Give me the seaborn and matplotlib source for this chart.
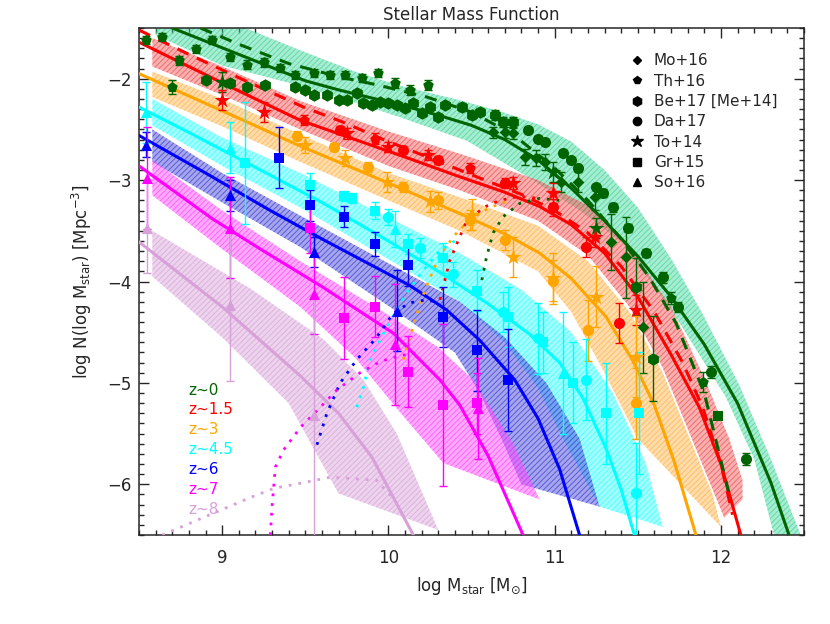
import numpy as np
import pandas as pd
import matplotlib
matplotlib.use("Agg")
import matplotlib.pyplot as plt
from matplotlib.lines import Line2D
import seaborn as sns

sns.set_style("ticks")
plt.rcParams["font.family"] = ["DejaVu Sans"]
plt.rcParams["hatch.linewidth"] = 0.7

z_names = ["z~0", "z~1.5", "z~3", "z~4.5", "z~6", "z~7", "z~8"]
line_cols = ["#006400", "#ff0000", "#ffa500", "#00ffff", "#0000ff", "#ff00ff", "#d8a0d8"]
band_cols = ["#3ed69a", "#f05050", "#ffb347", "#33ffff", "#3a3ad8", "#ff44ff", "#d9a0d9"]

# ---- model curves (solid) ----
z0_solid_x = [8.70, 8.90, 9.10, 9.30, 9.50, 9.70, 9.90, 10.10, 10.30, 10.50, 10.70, 10.90, 11.10, 11.30, 11.50, 11.70, 11.90, 12.10, 12.30, 12.41]
z0_solid_y = [-1.50, -1.63, -1.76, -1.89, -2.02, -2.11, -2.19, -2.27, -2.36, -2.46, -2.60, -2.80, -3.08, -3.40, -3.75, -4.15, -4.62, -5.20, -5.98, -6.50]
z15_solid_x = [8.50, 8.80, 9.10, 9.47, 9.80, 10.13, 10.40, 10.70, 10.91, 11.10, 11.30, 11.50, 11.70, 11.87, 12.00, 12.12]
z15_solid_y = [-1.64, -1.88, -2.12, -2.41, -2.60, -2.79, -2.95, -3.12, -3.26, -3.44, -3.72, -4.15, -4.72, -5.24, -5.80, -6.50]
z3_solid_x = [8.50, 8.80, 9.10, 9.45, 9.80, 10.13, 10.43, 10.70, 10.91, 11.10, 11.31, 11.47, 11.60, 11.72, 11.85]
z3_solid_y = [-1.95, -2.17, -2.39, -2.65, -2.89, -3.12, -3.33, -3.53, -3.72, -3.97, -4.35, -4.78, -5.22, -5.78, -6.50]
z45_solid_x = [8.50, 8.80, 9.23, 9.60, 10.00, 10.30, 10.60, 10.85, 11.03, 11.17, 11.31, 11.40, 11.48]
z45_solid_y = [-2.28, -2.53, -2.90, -3.22, -3.60, -3.90, -4.22, -4.52, -4.80, -5.15, -5.65, -6.05, -6.50]
z6_solid_x = [8.50, 8.90, 9.29, 9.60, 9.90, 10.13, 10.35, 10.55, 10.76, 10.90, 11.03, 11.15]
z6_solid_y = [-2.56, -2.93, -3.30, -3.58, -3.84, -4.04, -4.28, -4.58, -4.97, -5.35, -5.85, -6.50]
z7_solid_x = [8.50, 8.94, 9.23, 9.60, 10.03, 10.31, 10.43, 10.60, 10.81]
z7_solid_y = [-2.86, -3.38, -3.68, -4.05, -4.51, -4.97, -5.22, -5.72, -6.50]
z8_solid_x = [8.50, 9.00, 9.47, 9.70, 9.90, 10.15]
z8_solid_y = [-3.61, -4.25, -4.93, -5.30, -5.73, -6.50]

# ---- dashed curves ----
z0_dash_x = [8.87, 9.10, 9.40, 9.70, 9.93, 10.23, 10.50, 10.75, 11.00, 11.20, 11.40, 11.57, 11.73, 11.90, 12.05]
z0_dash_y = [-1.50, -1.66, -1.85, -1.98, -2.06, -2.18, -2.33, -2.55, -2.88, -3.20, -3.58, -3.96, -4.41, -5.10, -6.10]
z15_dash_x = [8.50, 8.80, 9.10, 9.49, 9.73, 9.97, 10.17, 10.55, 10.80, 11.00, 11.20, 11.40, 11.60, 11.77, 11.89, 12.00, 12.07]
z15_dash_y = [-1.52, -1.76, -1.99, -2.28, -2.43, -2.60, -2.73, -2.98, -3.14, -3.30, -3.52, -3.85, -4.30, -4.80, -5.24, -5.80, -6.30]

# ---- dotted curves ----
z0_dot_x = [10.55, 10.59, 10.63, 10.69, 10.79, 10.91, 11.03]
z0_dot_y = [-4.08, -3.76, -3.52, -3.36, -3.23, -3.18, -3.20]
z15_dot_x = [10.31, 10.37, 10.46, 10.57, 10.67, 10.79, 10.91]
z15_dot_y = [-4.18, -3.79, -3.44, -3.27, -3.20, -3.16, -3.18]
z3_dot_x = [10.09, 10.16, 10.22, 10.31, 10.40, 10.49, 10.61, 10.73]
z3_dot_y = [-4.77, -4.38, -4.08, -3.74, -3.54, -3.39, -3.27, -3.20]
z45_dot_x = [9.81, 9.85, 9.89, 9.99, 10.11, 10.21, 10.31, 10.43]
z45_dot_y = [-5.24, -5.04, -4.77, -4.45, -4.11, -3.89, -3.69, -3.57]
z6_dot_x = [9.57, 9.63, 9.71, 9.81, 9.93, 10.03, 10.13, 10.23, 10.31]
z6_dot_y = [-5.61, -5.30, -5.00, -4.77, -4.55, -4.31, -4.21, -4.18, -4.21]
z7_dot_x = [9.29, 9.30, 9.32, 9.37, 9.47, 9.59, 9.69, 9.83, 9.95, 10.07, 10.19]
z7_dot_y = [-6.50, -6.22, -5.83, -5.66, -5.44, -5.24, -5.07, -4.90, -4.79, -4.73, -4.70]
z8_dot_x = [8.64, 9.17, 9.31, 9.47, 9.65, 9.93, 10.00, 10.03]
z8_dot_y = [-6.50, -6.13, -6.04, -5.99, -5.93, -5.96, -6.09, -6.13]

# ---- shaded bands: upper (high-mass) edge, then lower edge ----
z0_band_up_x = [8.60, 9.14, 9.47, 9.80, 10.07, 10.40, 10.67, 10.90, 11.10, 11.30, 11.50, 11.71, 11.90, 12.11, 12.30, 12.48]
z0_band_up_y = [-1.50, -1.50, -1.72, -1.93, -2.07, -2.20, -2.32, -2.45, -2.62, -2.90, -3.27, -3.80, -4.35, -5.02, -5.75, -6.50]
z0_band_lo_x = [8.60, 9.00, 9.45, 9.85, 10.07, 10.47, 10.87, 11.17, 11.41, 11.71, 12.03, 12.20, 12.32]
z0_band_lo_y = [-1.57, -1.87, -2.06, -2.26, -2.38, -2.61, -3.00, -3.32, -3.62, -4.30, -5.14, -5.75, -6.50]
z15_band_up_x = [8.58, 9.00, 9.47, 10.00, 10.43, 10.90, 11.20, 11.45, 11.70, 11.90, 12.05, 12.13, 12.13, 12.02]
z15_band_up_y = [-1.60, -1.88, -2.22, -2.52, -2.74, -3.00, -3.25, -3.65, -4.25, -4.95, -5.55, -5.96, -6.15, -6.33]
z15_band_lo_x = [8.58, 9.00, 9.47, 10.00, 10.43, 10.90, 11.20, 11.45, 11.65, 11.80, 12.02]
z15_band_lo_y = [-1.88, -2.16, -2.50, -2.86, -3.10, -3.40, -3.74, -4.25, -4.85, -5.45, -6.33]
z3_band_up_x = [8.58, 9.00, 9.47, 10.00, 10.43, 10.90, 11.20, 11.45, 11.65, 11.80, 11.95, 12.00]
z3_band_up_y = [-1.93, -2.20, -2.55, -2.93, -3.17, -3.45, -3.80, -4.30, -4.90, -5.50, -6.10, -6.42]
z3_band_lo_x = [8.58, 9.00, 9.47, 10.00, 10.43, 10.90, 11.10, 11.30, 11.50, 12.00]
z3_band_lo_y = [-2.18, -2.47, -2.82, -3.20, -3.50, -3.90, -4.30, -4.90, -5.55, -6.42]
z45_band_up_x = [8.58, 9.00, 9.47, 10.00, 10.43, 10.80, 11.10, 11.35, 11.55, 11.65]
z45_band_up_y = [-2.20, -2.58, -2.93, -3.37, -3.72, -4.08, -4.50, -5.10, -5.80, -6.42]
z45_band_lo_x = [8.58, 9.00, 9.47, 10.00, 10.43, 10.70, 10.90, 11.05, 11.27, 11.65]
z45_band_lo_y = [-2.46, -2.86, -3.27, -3.78, -4.20, -4.60, -5.05, -5.55, -6.22, -6.42]
z6_band_up_x = [8.58, 9.00, 9.47, 10.00, 10.43, 10.70, 10.95, 11.15, 11.27]
z6_band_up_y = [-2.50, -2.93, -3.35, -3.82, -4.20, -4.55, -5.00, -5.55, -6.22]
z6_band_lo_x = [8.58, 9.00, 9.47, 10.00, 10.40, 10.55, 10.68, 10.80, 11.27]
z6_band_lo_y = [-2.82, -3.22, -3.66, -4.24, -4.70, -5.10, -5.55, -6.00, -6.22]
z7_band_up_x = [8.58, 9.00, 9.47, 10.00, 10.30, 10.51, 10.75, 10.91]
z7_band_up_y = [-2.80, -3.30, -3.80, -4.33, -4.65, -4.97, -5.60, -6.15]
z7_band_lo_x = [8.58, 9.00, 9.47, 9.80, 10.05, 10.33, 10.91]
z7_band_lo_y = [-3.15, -3.68, -4.25, -4.75, -5.25, -5.79, -6.15]
z8_band_up_x = [8.58, 9.17, 9.61, 9.85, 10.05, 10.30]
z8_band_up_y = [-3.50, -4.07, -4.57, -4.97, -5.50, -6.45]
z8_band_lo_x = [8.58, 9.00, 9.40, 9.70, 10.30]
z8_band_lo_y = [-3.95, -4.55, -5.20, -6.09, -6.45]

# ---- data points ----
z0_th_x = [8.54, 8.64, 8.70, 8.74, 8.84, 8.94, 9.05, 9.15, 9.25, 9.35, 9.44, 9.55, 9.65, 9.74, 9.84, 9.94, 10.04, 10.13, 10.24, 11.70, 11.89]
z0_th_y = [-1.62, -1.59, -2.08, -1.82, -1.71, -1.62, -1.79, -1.86, -1.84, -1.89, -1.96, -1.94, -1.96, -1.96, -1.99, -1.94, -2.04, -2.11, -2.06, -4.16, -4.99]
z0_th_e = [0.04, 0.04, 0.07, 0.04, 0.04, 0.04, 0.04, 0.04, 0.04, 0.04, 0.04, 0.04, 0.04, 0.04, 0.04, 0.04, 0.05, 0.05, 0.05, 0.06, 0.10]
z0_be_x = [8.90, 9.05, 9.15, 9.26, 9.44, 9.50, 9.55, 9.63, 9.70, 9.75, 9.81, 9.85, 9.90, 9.95, 10.00, 10.05, 10.10, 10.15, 10.20, 10.25, 10.30, 10.34, 10.44, 10.50, 10.55, 10.64, 10.69, 10.75, 11.49, 11.59]
z0_be_y = [-2.01, -2.04, -2.08, -2.06, -2.08, -2.11, -2.16, -2.16, -2.21, -2.21, -2.14, -2.24, -2.26, -2.23, -2.24, -2.26, -2.29, -2.24, -2.34, -2.28, -2.38, -2.26, -2.28, -2.36, -2.33, -2.36, -2.43, -2.43, -4.05, -4.76]
z0_be_e = [0.03, 0.03, 0.03, 0.03, 0.03, 0.03, 0.03, 0.03, 0.03, 0.03, 0.03, 0.03, 0.03, 0.03, 0.03, 0.03, 0.03, 0.03, 0.03, 0.03, 0.03, 0.03, 0.04, 0.04, 0.04, 0.05, 0.05, 0.05, 0.28, 0.42]
z0_da_x = [10.84, 10.90, 10.94, 11.05, 11.10, 11.14, 11.25, 11.29, 11.35, 11.44, 11.55, 11.65, 11.74, 11.94, 12.15]
z0_da_y = [-2.51, -2.59, -2.62, -2.73, -2.80, -2.88, -3.07, -3.13, -3.27, -3.47, -3.72, -3.96, -4.25, -4.89, -5.75]
z0_da_e = [0.03, 0.03, 0.03, 0.03, 0.03, 0.03, 0.03, 0.04, 0.04, 0.04, 0.04, 0.05, 0.05, 0.06, 0.06]
z0_mo_x = [10.63, 10.70, 10.75, 10.82, 10.89, 10.94, 11.04, 11.14, 11.24, 11.34, 11.43, 11.53]
z0_mo_y = [-2.53, -2.53, -2.54, -2.77, -2.78, -2.82, -3.02, -3.02, -3.17, -3.61, -3.76, -4.45]
z0_mo_e = [0.05, 0.05, 0.05, 0.08, 0.08, 0.08, 0.10, 0.10, 0.12, 0.28, 0.40, 0.45]
z0_to_x = [9.00, 10.99, 11.25]
z0_to_y = [-2.03, -2.92, -3.47]
z0_to_e = [0.10, 0.10, 0.10]
z0_gr_x = [11.98]
z0_gr_y = [-5.33]
z0_gr_e = [0.03]

z15_to_x = [9.00, 9.25, 9.75, 10.00, 10.24, 10.75, 10.99, 11.24, 11.49]
z15_to_y = [-2.21, -2.33, -2.54, -2.67, -2.75, -3.03, -3.13, -3.56, -4.28]
z15_to_e = [0.10, 0.10, 0.05, 0.05, 0.05, 0.06, 0.10, 0.10, 0.15]
z15_th_x = [9.49, 9.92, 10.49]
z15_th_y = [-2.41, -2.59, -2.88]
z15_th_e = [0.05, 0.05, 0.05]
z15_da_x = [9.71, 10.09, 10.30, 10.70, 10.99, 11.19, 11.39]
z15_da_y = [-2.51, -2.70, -2.80, -3.03, -3.27, -3.66, -4.41]
z15_da_e = [0.04, 0.04, 0.04, 0.05, 0.08, 0.10, 0.20]

z3_da_x = [9.45, 9.67, 9.88, 10.09, 10.30, 10.49, 10.70, 10.99, 11.20, 11.49]
z3_da_y = [-2.56, -2.67, -2.87, -3.07, -3.20, -3.39, -3.59, -3.99, -4.48, -5.20]
z3_da_e = [0.04, 0.04, 0.05, 0.05, 0.08, 0.10, 0.10, 0.20, 0.30, 0.35]
z3_to_x = [9.50, 9.74, 9.99, 10.25, 10.50, 10.75, 10.99, 11.25, 11.49]
z3_to_y = [-2.65, -2.78, -3.02, -3.21, -3.34, -3.76, -3.97, -4.15, -4.74]
z3_to_e = [0.08, 0.08, 0.10, 0.10, 0.15, 0.20, 0.25, 0.30, 0.40]

z45_so_x = [8.54, 9.05, 10.04, 11.05]
z45_so_y = [-2.33, -2.68, -3.48, -4.90]
z45_so_e = [0.30, 0.25, 0.18, 0.60]
z45_gr_x = [9.14, 9.53, 9.73, 9.78, 9.92, 10.12, 10.33, 10.53, 10.72, 10.93, 11.11, 11.31, 11.51]
z45_gr_y = [-2.83, -3.05, -3.16, -3.18, -3.30, -3.63, -3.77, -4.09, -4.35, -4.60, -5.00, -5.30, -5.30]
z45_gr_e = [0.60, 0.12, 0.05, 0.05, 0.08, 0.10, 0.15, 0.20, 0.30, 0.30, 0.40, 0.50, 0.60]
z45_da_x = [10.00, 10.19, 10.39, 10.69, 10.90, 11.19, 11.49]
z45_da_y = [-3.36, -3.67, -3.93, -4.30, -4.56, -4.97, -6.09]
z45_da_e = [0.08, 0.10, 0.12, 0.20, 0.35, 0.40, 0.50]

z6_so_x = [8.54, 9.05, 9.55, 10.05]
z6_so_y = [-2.65, -3.15, -3.71, -4.29]
z6_so_e = [0.12, 0.15, 0.15, 0.40]
z6_gr_x = [9.34, 9.53, 9.73, 9.92, 10.12, 10.33, 10.53, 10.72]
z6_gr_y = [-2.78, -3.25, -3.36, -3.63, -3.84, -4.35, -4.68, -4.97]
z6_gr_e = [0.30, 0.15, 0.10, 0.12, 0.20, 0.30, 0.40, 0.50]

z7_so_x = [8.55, 9.05, 9.55, 10.04, 10.54]
z7_so_y = [-2.98, -3.47, -4.12, -4.62, -5.25]
z7_so_e = [0.50, 0.50, 0.40, 0.60, 0.50]
z7_gr_x = [9.53, 9.73, 9.92, 10.12, 10.33, 10.53]
z7_gr_y = [-3.47, -4.36, -4.25, -4.89, -5.22, -5.20]
z7_gr_e = [0.25, 0.40, 0.30, 0.35, 0.80, 0.30]

z8_so_x = [8.55, 9.05, 9.55]
z8_so_y = [-3.47, -4.23, -5.32]
z8_so_e = [0.45, 0.75, 1.20]

survey_names = ["Mo+16", "Th+16", "Be+17 [Me+14]", "Da+17", "To+14", "Gr+15", "So+16"]
survey_marks = ["D", "p", "h", "o", "*", "s", "^"]
survey_sizes = [6, 8, 9, 8, 12, 7, 8]

fig = plt.figure(figsize=(8.3, 6.24), dpi=100)
ax = fig.add_axes([0.1675, 0.1426, 0.8012, 0.8125])

bands = [
    (z0_band_up_x, z0_band_up_y, z0_band_lo_x, z0_band_lo_y),
    (z15_band_up_x, z15_band_up_y, z15_band_lo_x, z15_band_lo_y),
    (z3_band_up_x, z3_band_up_y, z3_band_lo_x, z3_band_lo_y),
    (z45_band_up_x, z45_band_up_y, z45_band_lo_x, z45_band_lo_y),
    (z6_band_up_x, z6_band_up_y, z6_band_lo_x, z6_band_lo_y),
    (z7_band_up_x, z7_band_up_y, z7_band_lo_x, z7_band_lo_y),
    (z8_band_up_x, z8_band_up_y, z8_band_lo_x, z8_band_lo_y),
]
for i, (ux, uy, lx, ly) in enumerate(bands):
    px = list(ux) + list(lx)[::-1]
    py = list(uy) + list(ly)[::-1]
    ax.fill(px, py, facecolor=band_cols[i], edgecolor="none", alpha=0.45, zorder=1)
    ax.fill(px, py, facecolor="none", edgecolor=band_cols[i], hatch="//////", linewidth=0, alpha=0.7, zorder=1)

solids = [(z0_solid_x, z0_solid_y), (z15_solid_x, z15_solid_y), (z3_solid_x, z3_solid_y),
          (z45_solid_x, z45_solid_y), (z6_solid_x, z6_solid_y), (z7_solid_x, z7_solid_y),
          (z8_solid_x, z8_solid_y)]
for i, (sx, sy) in enumerate(solids):
    sns.lineplot(x=sx, y=sy, sort=False, estimator=None, color=line_cols[i], lw=2.2, ax=ax, zorder=3)

for (dx, dy), c in [((z0_dash_x, z0_dash_y), line_cols[0]), ((z15_dash_x, z15_dash_y), line_cols[1])]:
    sns.lineplot(x=dx, y=dy, sort=False, estimator=None, color=c, lw=2.2, ax=ax, zorder=3,
                 linestyle=(0, (4, 3)))

dots = [(z0_dot_x, z0_dot_y), (z15_dot_x, z15_dot_y), (z3_dot_x, z3_dot_y), (z45_dot_x, z45_dot_y),
        (z6_dot_x, z6_dot_y), (z7_dot_x, z7_dot_y), (z8_dot_x, z8_dot_y)]
for i, (dx, dy) in enumerate(dots):
    sns.lineplot(x=dx, y=dy, sort=False, estimator=None, color=line_cols[i], lw=2.0, ax=ax, zorder=3,
                 linestyle=(0, (1, 2.5)))


def draw_points(x, y, e, color, k):
    ax.errorbar(x, y, yerr=e, fmt="none", ecolor=color, elinewidth=1.0, capsize=3, zorder=4)
    sns.scatterplot(x=x, y=y, marker=survey_marks[k], s=survey_sizes[k] ** 2, color=color,
                    edgecolor=color, linewidth=0, ax=ax, zorder=5, legend=False)


draw_points(z0_be_x, z0_be_y, z0_be_e, line_cols[0], 2)
draw_points(z0_th_x, z0_th_y, z0_th_e, line_cols[0], 1)
draw_points(z0_da_x, z0_da_y, z0_da_e, line_cols[0], 3)
draw_points(z0_mo_x, z0_mo_y, z0_mo_e, line_cols[0], 0)
draw_points(z0_to_x, z0_to_y, z0_to_e, line_cols[0], 4)
draw_points(z0_gr_x, z0_gr_y, z0_gr_e, line_cols[0], 5)
draw_points(z15_to_x, z15_to_y, z15_to_e, line_cols[1], 4)
draw_points(z15_th_x, z15_th_y, z15_th_e, line_cols[1], 1)
draw_points(z15_da_x, z15_da_y, z15_da_e, line_cols[1], 3)
draw_points(z3_da_x, z3_da_y, z3_da_e, line_cols[2], 3)
draw_points(z3_to_x, z3_to_y, z3_to_e, line_cols[2], 4)
draw_points(z45_so_x, z45_so_y, z45_so_e, line_cols[3], 6)
draw_points(z45_gr_x, z45_gr_y, z45_gr_e, line_cols[3], 5)
draw_points(z45_da_x, z45_da_y, z45_da_e, line_cols[3], 3)
draw_points(z6_so_x, z6_so_y, z6_so_e, line_cols[4], 6)
draw_points(z6_gr_x, z6_gr_y, z6_gr_e, line_cols[4], 5)
draw_points(z7_so_x, z7_so_y, z7_so_e, line_cols[5], 6)
draw_points(z7_gr_x, z7_gr_y, z7_gr_e, line_cols[5], 5)
draw_points(z8_so_x, z8_so_y, z8_so_e, line_cols[6], 6)

ax.set_xlim(8.5, 12.5)
ax.set_ylim(-6.5, -1.5)
ax.set_xticks([9, 10, 11, 12])
ax.set_yticks([-6, -5, -4, -3, -2])
ax.set_xticks(np.arange(8.5, 12.51, 0.1), minor=True)
ax.set_yticks(np.arange(-6.5, -1.49, 0.1), minor=True)
ax.tick_params(which="both", direction="in", top=True, right=True, labelsize=12, width=1)
ax.tick_params(which="major", length=7, pad=10)
ax.tick_params(which="minor", length=3.5)
ax.tick_params(axis="y", which="major", pad=5)
for sp in ax.spines.values():
    sp.set_linewidth(1.1)

ax.set_xlabel(r"log M$_{\rm star}$ [M$_{\odot}$]", fontsize=12, labelpad=6)
ax.set_ylabel(r"log N(log M$_{\rm star}$) [Mpc$^{-3}$]", fontsize=12, labelpad=10)
ax.set_title("Stellar Mass Function", fontsize=12, pad=6)

handles = [Line2D([], [], marker=m, color="black", linestyle="none", markersize=s * 0.75)
           for m, s in zip(survey_marks, survey_sizes)]
ax.legend(handles, survey_names, loc="upper left", bbox_to_anchor=(0.726, 0.965), frameon=False,
          fontsize=11, handlelength=1.0, handletextpad=0.6, labelspacing=0.35, borderpad=0)

for i, name in enumerate(z_names):
    ax.text(0.074, 0.286 - i * 0.0394, name, color=line_cols[i], fontsize=11,
            transform=ax.transAxes, va="center", ha="left")

fig.savefig("out.png", dpi=100)
